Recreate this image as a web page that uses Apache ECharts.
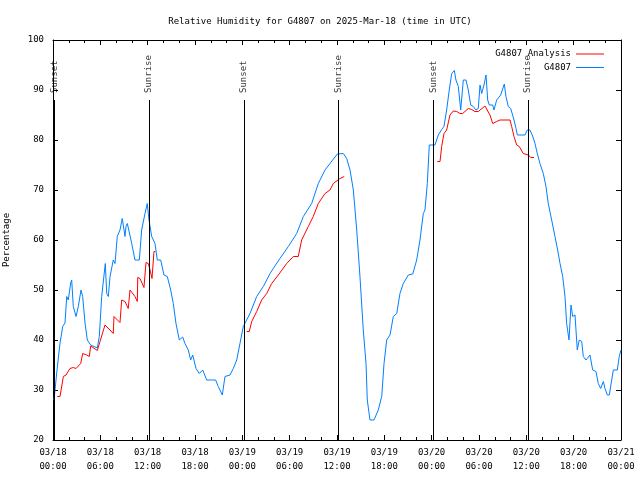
<!DOCTYPE html>
<html><head><meta charset="utf-8">
<script src="https://cdn.jsdelivr.net/npm/echarts@6/dist/echarts.min.js"></script>
<style>html,body{margin:0;padding:0;background:#fff}#c{width:640px;height:480px}</style>
</head><body><div id="c"></div>
<script>
const titleText = 'Relative Humidity for G4807 on 2025-Mar-18 (time in UTC)';
const yAxisName = 'Percentage';
const tickDates = ['03/18','03/18','03/18','03/18','03/19','03/19','03/19','03/19','03/20','03/20','03/20','03/20','03/21'];
const tickTimes = ['00:00','06:00','12:00','18:00','00:00','06:00','12:00','18:00','00:00','06:00','12:00','18:00','00:00'];
const sunNames = ['Sunset','Sunrise','Sunset','Sunrise','Sunset','Sunrise'];
const sunHours = [0.15,12.17,24.2,36.2,48.2,60.2];
const sunLineTop = 88;
const seriesNames = ['G4807 Analysis','G4807'];

// observed: [hour since 03/18 00:00 UTC, RH %]
const obsData = [[0.13,28],[0.47,33.4],[0.89,39.4],[1.23,42.7],[1.52,43.4],[1.74,48.7],[1.94,48],[2.24,51.4],[2.37,52],[2.57,46.7],[2.92,44.7],[3.21,46.7],[3.55,50],[3.76,48.7],[4.06,43.4],[4.35,40],[4.78,39],[5.62,38.4],[5.87,40.7],[6.17,48.7],[6.63,55.3],[6.81,49.3],[7.01,48.7],[7.23,52.7],[7.64,56],[7.86,55.3],[8.15,60.7],[8.49,62],[8.78,64.3],[9.13,60.7],[9.25,62.7],[9.42,63.3],[9.67,63.3],[9.98,59.3],[10.39,56],[10.94,56],[11.24,62],[11.66,65.3],[11.95,67.3],[12.17,64],[12.51,60.7],[12.93,59.3],[13.22,56],[13.65,56],[14.07,53],[14.49,52.7],[14.92,50],[15.25,47.3],[15.59,43.3],[16.01,40],[16.44,40.6],[16.73,39.3],[17.15,38],[17.45,36],[17.71,37],[18.13,34.3],[18.54,33.3],[18.98,34],[19.48,32],[20.12,32],[20.62,32],[20.95,30.7],[21.46,29],[21.8,32.7],[22.44,33],[22.85,34.3],[23.29,36],[23.7,39.3],[24.12,42.7],[24.97,45.3],[25.82,48.7],[26.66,50.7],[27.51,53.3],[27.92,54.3],[28.77,56.3],[29.83,58.7],[30.89,61.3],[31.73,64.7],[32.79,67.3],[33.63,71.3],[34.48,74],[35.11,75.3],[36.04,77.2],[36.8,77.3],[37.23,76.3],[37.65,74],[38.07,70],[38.5,62],[38.91,52.7],[39.33,42],[39.68,35.3],[39.84,28],[40.18,24],[40.69,24],[41.23,26],[41.67,28.7],[41.96,35.3],[42.3,40],[42.72,41],[43.14,44.7],[43.57,45.3],[43.98,49.3],[44.4,51.3],[45.04,53],[45.6,53.2],[46.1,56],[46.52,60],[46.94,65.3],[47.15,66],[47.45,71.3],[47.7,79],[48.42,79],[48.84,81],[49.27,82.1],[49.56,82.7],[49.9,86],[50.23,90],[50.54,93.3],[50.87,93.9],[51.08,92],[51.38,90.7],[51.68,86],[51.88,86],[52.01,92],[52.35,92],[52.64,90],[52.95,87],[53.28,86.7],[53.62,86],[53.91,86.3],[54.13,91],[54.34,89.3],[54.63,91],[54.89,93],[55.1,88],[55.31,87],[55.74,87],[55.9,86],[56.24,88],[56.75,89],[57.0,88.7],[57.21,91.2],[57.42,88.7],[57.71,86.7],[58.02,86.3],[58.44,84],[58.69,82.3],[58.86,81],[59.83,81],[60.12,82],[60.46,82],[60.8,80.8],[61.1,79.3],[61.39,77.3],[61.73,75.3],[62.15,73.3],[62.49,70.7],[62.78,67.3],[63.21,64],[63.63,60.7],[63.97,58],[64.27,55.3],[64.61,52.7],[64.9,48.7],[65.11,43.3],[65.41,40],[65.66,47],[65.88,44.7],[66.17,45],[66.46,38],[66.71,40],[67.02,39.7],[67.22,36.7],[67.56,36],[68.07,37],[68.41,34],[68.83,33.7],[69.12,31.3],[69.42,30.3],[69.76,31.7],[69.97,30.3],[70.26,29],[70.52,29],[70.82,32],[71.03,34],[71.53,34],[71.78,36.7],[72,38]];

// analysis segments: [hour, RH %]
const analysisSeg1 = [[0.55,28.7],[0.89,28.7],[1.31,32.7],[1.65,33],[2.15,34.3],[2.57,34.5],[2.92,34.3],[3.51,35.3],[3.76,37.3],[4.27,37],[4.6,36.7],[4.78,38.8],[5.62,37.9],[5.96,39.7],[6.59,43],[7.23,42],[7.64,41.3],[7.73,44.7],[8.49,43.5],[8.71,48],[9.13,47.7],[9.54,46.3],[9.76,50],[10.39,48.7],[10.69,47.7],[10.74,52.5],[11.03,52.3],[11.53,50.5],[11.79,55.5],[12.08,55.3],[12.3,54],[12.55,52.3],[12.8,57.7],[12.97,57.7]];
const analysisSeg2 = [[24.55,41.7],[24.88,41.7],[25.19,43.7],[25.82,45.7],[26.45,48],[27.09,49.3],[27.72,51.3],[28.56,53],[29.62,55.3],[30.46,56.7],[31.09,56.7],[31.52,60],[32.36,62.7],[32.99,64.7],[33.63,67.3],[34.48,69.3],[35.11,70],[35.53,71.3],[36.38,72.3],[36.92,72.7]];
const analysisSeg3 = [[48.71,75.7],[49.06,75.7],[49.27,78.7],[49.56,81.3],[49.9,82],[50.32,85],[50.74,85.8],[51.17,85.7],[51.59,85.3],[51.93,85.3],[52.64,86.3],[53.07,86.1],[53.49,85.7],[53.91,85.7],[54.76,86.8],[54.97,86.7],[55.39,85],[55.74,83.3],[56.24,83.7],[56.66,84],[57.93,84],[58.14,82.7],[58.44,80.7],[58.78,79],[59.1,78.7],[59.61,77.3],[60.25,77],[60.55,76.5],[60.97,76.5]];

const FONT = 'DejaVu Sans Mono';
const analysisData = analysisSeg1.concat([[18,null]], analysisSeg2, [[42,null]], analysisSeg3);

function xAxisCfg(pos, labels) {
  return {
    type: 'value', position: pos, min: 0, max: 72, interval: 6,
    axisLine: {show: true, onZero: false, lineStyle: {color: '#000', width: 1}},
    axisTick: {show: true, inside: true, length: 5, lineStyle: {color: '#000'}},
    minorTick: {show: true, splitNumber: 3, length: 3, lineStyle: {color: '#000'}},
    splitLine: {show: false},
    axisLabel: labels ? {
      show: true, margin: 6, color: '#000', fontFamily: FONT, fontSize: 9, lineHeight: 14,
      formatter: v => { const i = Math.round(v / 6); return tickDates[i] + '\n' + tickTimes[i]; }
    } : {show: false}
  };
}
function yAxisCfg(pos, labels) {
  return {
    type: 'value', position: pos, min: 20, max: 100, interval: 10,
    name: labels ? yAxisName : '', nameLocation: 'middle', nameGap: 42,
    nameTextStyle: {color: '#000', fontFamily: FONT, fontSize: 9},
    axisLine: {show: true, onZero: false, lineStyle: {color: '#000', width: 1}},
    axisTick: {show: true, inside: true, length: 5, lineStyle: {color: '#000'}},
    splitLine: {show: false},
    axisLabel: labels ? {show: true, margin: 9, color: '#000', fontFamily: FONT, fontSize: 9} : {show: false}
  };
}

const chart = echarts.init(document.getElementById('c'), null, {renderer: 'canvas'});
chart.setOption({
  animation: false,
  backgroundColor: '#fff',
  title: {text: titleText, left: 'center', top: 12,
    textStyle: {fontFamily: FONT, fontSize: 9, fontWeight: 'normal', color: '#000'}},
  grid: {left: 53, right: 19, top: 40, bottom: 40, containLabel: false, outerBoundsMode: 'none'},
  legend: {
    data: seriesNames, orient: 'vertical', right: 31, top: 44, align: 'right',
    icon: 'rect', itemWidth: 28, itemHeight: 1, itemGap: 3.5,
    textStyle: {fontFamily: FONT, fontSize: 9, color: '#000', lineHeight: 10}
  },
  xAxis: [xAxisCfg('bottom', true), xAxisCfg('top', false)],
  yAxis: [yAxisCfg('left', true), yAxisCfg('right', false)],
  series: [
    {name: seriesNames[0], type: 'line', data: analysisData, symbol: 'none', connectNulls: false,
      lineStyle: {color: '#ff0000', width: 1}, itemStyle: {color: '#ff0000'}},
    {name: seriesNames[1], type: 'line', data: obsData, symbol: 'none',
      lineStyle: {color: '#0080ff', width: 1}, itemStyle: {color: '#0080ff'}},
    {name: 'sun', type: 'scatter', symbolSize: 0, silent: true,
      data: sunHours.map(h => [h, sunLineTop]),
      label: {show: true, position: 'top', distance: 6, rotate: 90, align: 'left', verticalAlign: 'middle',
        offset: [1, 0], color: '#000', fontFamily: FONT, fontSize: 9,
        formatter: p => sunNames[p.dataIndex]},
      markLine: {silent: true, symbol: 'none', label: {show: false},
        lineStyle: {color: '#000', width: 1, type: 'solid'},
        data: sunHours.map(h => [{coord: [h, 20]}, {coord: [h, sunLineTop]}])}
    }
  ]
});
</script></body></html>
